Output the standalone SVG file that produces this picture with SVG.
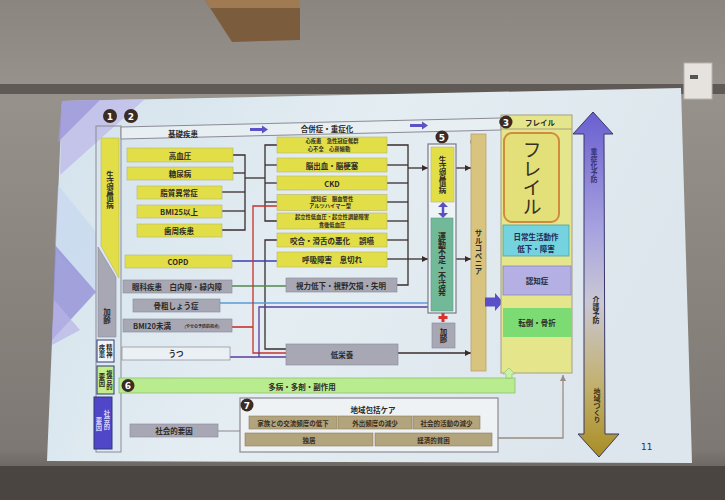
<svg xmlns="http://www.w3.org/2000/svg" width="725" height="500" viewBox="0 0 725 500">
<defs>
<linearGradient id="wall" x1="0" y1="0" x2="0" y2="1">
<stop offset="0" stop-color="#8b8580"/><stop offset="0.17" stop-color="#98928c"/><stop offset="0.9" stop-color="#7d7873"/><stop offset="1" stop-color="#4d4844"/>
</linearGradient>
<linearGradient id="slide" x1="0" y1="0" x2="1" y2="0.3">
<stop offset="0" stop-color="#d3e2ec"/><stop offset="0.5" stop-color="#e4edf2"/><stop offset="1" stop-color="#dde6ec"/>
</linearGradient>
<linearGradient id="dbl" x1="0" y1="0" x2="0" y2="1">
<stop offset="0" stop-color="#6a5fd0"/><stop offset="0.35" stop-color="#a9a4e0"/><stop offset="0.55" stop-color="#c9c7d3"/><stop offset="0.8" stop-color="#c2b06a"/><stop offset="1" stop-color="#a88d25"/>
</linearGradient>
<marker id="ah" viewBox="0 0 6 6" refX="6" refY="3" markerWidth="6" markerHeight="6" markerUnits="userSpaceOnUse" orient="auto">
<path d="M0,0 L6,3 L0,6 z" fill="#3a2b2b"/>
</marker>
<marker id="ahg" viewBox="0 0 6 6" refX="6" refY="3" markerWidth="6" markerHeight="6" markerUnits="userSpaceOnUse" orient="auto">
<path d="M0,0 L6,3 L0,6 z" fill="#9a8c80"/>
</marker>
<style>
.y{fill:#e2de47;stroke:#b9b56c;stroke-width:.6}
.g{fill:#a8a8b5;stroke:#86869a;stroke-width:.6}
.t{font-family:"Noto Sans CJK JP","Noto Sans",sans-serif;font-size:7.5px;font-weight:700;fill:#2e2a26;text-anchor:middle;dominant-baseline:central}
.s{font-size:6.3px}
.two{font-size:5.3px}
.v{writing-mode:vertical-rl;dominant-baseline:auto}
.num{fill:#3b2b22}
.nt{font-family:"DejaVu Sans",sans-serif;font-size:9px;font-weight:700;fill:#ffffff;text-anchor:middle;dominant-baseline:central}
.c{fill:none;stroke:#3a2d2d;stroke-width:1.3}
.tan{fill:#b2a47c;stroke:#8c7c5e;stroke-width:.6}
.tt{font-family:"Noto Sans CJK JP","Noto Sans",sans-serif;font-size:6.5px;font-weight:700;fill:#3a2e22;text-anchor:middle;dominant-baseline:central}
</style>
</defs>

<!-- room background -->
<rect width="725" height="500" fill="url(#wall)"/>
<polygon points="205,0 300,0 300,40 232,42" fill="#7b5c3c"/>
<polygon points="205,0 300,0 300,8 210,8" fill="#a07a52"/>
<rect x="0" y="84" width="725" height="10" fill="#5f5a55"/>
<rect x="684" y="63" width="28" height="36" fill="#e6e3df" stroke="#b8b4b0" stroke-width="1"/>
<rect x="690" y="75" width="8" height="4" fill="#555"/>
<polygon points="0,466 725,466 725,500 0,500" fill="#4a4541"/>

<!-- slide -->
<polygon points="62,101 681,88 692,463 47,461" fill="url(#slide)"/>
<polygon points="62,101 145,99 60,175" fill="#bdb9e8" opacity="0.75"/>
<polygon points="62,101 100,100 58,142" fill="#9d98d8" opacity="0.8"/>
<polygon points="58,185 96,232 96,292 55,250" fill="#c4d6f0" opacity="0.6"/>
<polygon points="55,245 96,292 52,340" fill="#8f89d6" opacity="0.75"/>
<polygon points="54,300 80,330 52,345" fill="#b8b3e6" opacity="0.7"/>

<!-- frames -->
<g id="frame1">
<rect x="96" y="126" width="25" height="326" fill="none" stroke="#8a8a96" stroke-width="1"/>
</g>
<g id="header">
<polygon points="121,127 501,118 501,130 121,139" fill="#e8eff3" stroke="#8a8a96" stroke-width="1"/>
<text class="t" x="183" y="133">基礎疾患</text>
<polygon points="250,128 262,128 262,125.5 268,129.5 262,133.5 262,131 250,131" fill="#5a52c6"/>
<text class="t" x="327" y="128">合併症・重症化</text>
<polygon points="410,124 422,124 422,121.5 428,125.5 422,129.5 422,127 410,127" fill="#5a52c6"/>
</g>

<!-- numbered circles -->
<g id="numbers">
<circle class="num" cx="110" cy="116" r="7"/><text class="nt" x="110" y="116.5">1</text>
<circle class="num" cx="131" cy="116" r="7"/><text class="nt" x="131" y="116.5">2</text>
<circle class="num" cx="506" cy="122" r="6.5"/><text class="nt" x="506" y="122.5">3</text>
<circle class="num" cx="477" cy="142" r="6.5"/><text class="nt" x="477" y="142.5">4</text>
<circle class="num" cx="442" cy="137" r="6.5"/><text class="nt" x="442" y="137.5">5</text>
<circle class="num" cx="247" cy="405" r="6.5"/><text class="nt" x="247" y="405.5">7</text>
</g>

<!-- connectors -->
<g id="connectors">
<polyline class="c" points="233,155 245,155 245,230 222,230"/>
<line class="c" x1="233" y1="173" x2="245" y2="173"/>
<line class="c" x1="222" y1="192" x2="245" y2="192"/>
<line class="c" x1="222" y1="211" x2="245" y2="211"/>
<line class="c" x1="245" y1="178" x2="265" y2="178"/>
<polyline class="c" points="277,145 265,145 265,221 277,221"/>
<line class="c" x1="265" y1="165" x2="277" y2="165"/>
<line class="c" x1="265" y1="183" x2="277" y2="183"/>
<line class="c" x1="265" y1="202" x2="277" y2="202"/>
<polyline class="c" points="387,145 408,145 408,285 397,285"/>
<line class="c" x1="387" y1="165" x2="408" y2="165"/>
<line class="c" x1="387" y1="183" x2="408" y2="183"/>
<line class="c" x1="387" y1="202" x2="408" y2="202"/>
<line class="c" x1="387" y1="221" x2="408" y2="221"/>
<line class="c" x1="387" y1="240" x2="408" y2="240"/>
<line class="c" x1="387" y1="259" x2="408" y2="259"/>
<line class="c" x1="408" y1="168" x2="428" y2="168" marker-end="url(#ah)"/>
<line class="c" x1="408" y1="259" x2="428" y2="259" marker-end="url(#ah)"/>
<line class="c" x1="454" y1="168" x2="471" y2="168" marker-end="url(#ah)"/>
<line class="c" x1="453" y1="259" x2="471" y2="259" marker-end="url(#ah)"/>
<line class="c" x1="398" y1="353" x2="471" y2="353" marker-end="url(#ah)"/>
<polyline class="c" points="277,240 265,240 265,349 286,349"/>
<line x1="232" y1="261" x2="277" y2="261" stroke="#3c3cb0" stroke-width="1.5"/>
<line x1="232" y1="286" x2="286" y2="286" stroke="#4f8a4a" stroke-width="1.3"/>
<line x1="220" y1="303" x2="431" y2="303" stroke="#5a9ad8" stroke-width="1.3"/>
<polyline points="277,206 253,206 253,353 286,353" fill="none" stroke="#c8322c" stroke-width="1.3"/>
<line x1="232" y1="327" x2="253" y2="327" stroke="#c8322c" stroke-width="1.6"/>
<polyline points="230,357 286,357" fill="none" stroke="#5a3c9c" stroke-width="1.3"/>
<polyline points="259,357 259,307 431,307" fill="none" stroke="#5a3c9c" stroke-width="1.3"/>
<line x1="218" y1="431" x2="240" y2="431" stroke="#9a9a9e" stroke-width="1.2"/>
<polyline points="498,438 563,438 563,375" fill="none" stroke="#9a8c80" stroke-width="1.3" marker-end="url(#ahg)"/>
</g>

<!-- column 1 -->
<g id="n-seikatsu1">
<polygon points="101,138 119,138 119,278 101,246" class="y"/>
<text class="t v" x="110" y="190">生活習慣病</text>
</g>
<g id="n-karei1">
<polygon points="98,247 116,277 116,337 98,337" class="g"/>
<text class="t v" x="107" y="316">加齢</text>
</g>
<g id="n-seishin">
<rect x="97" y="340" width="17" height="22" fill="#f2f5f7" stroke="#2f3a78" stroke-width="1"/>
<text class="t v s" x="109.5" y="351">精神</text>
<text class="t v s" x="102" y="351">疾患</text>
</g>
<g id="n-fukugo">
<rect x="97" y="366" width="17" height="28" fill="#c3ec8a" stroke="#2f3a78" stroke-width="1"/>
<text class="t v s" x="109.5" y="380">複合的</text>
<text class="t v s" x="102" y="380">要因</text>
</g>
<g id="n-shakai1">
<rect x="94" y="397" width="18" height="52" fill="#4f46c8" stroke="#2f3a78" stroke-width="1"/>
<text class="t v s" x="107" y="420" style="fill:#d8d6ff">社会的</text>
<text class="t v s" x="99" y="424" style="fill:#d8d6ff">要因</text>
</g>

<!-- column 2 -->
<g id="n-kouketsuatsu"><rect class="y" x="127" y="148" width="106" height="14"/><text class="t" x="180" y="155">高血圧</text></g>
<g id="n-tounyou"><rect class="y" x="127" y="167" width="106" height="13"/><text class="t" x="180" y="173.5">糖尿病</text></g>
<g id="n-shishitsu"><rect class="y" x="137" y="186" width="85" height="13"/><text class="t" x="179" y="192.5">脂質異常症</text></g>
<g id="n-bmi25"><rect class="y" x="137" y="205" width="85" height="13"/><text class="t" x="179" y="211.5">BMI25以上</text></g>
<g id="n-shishuu"><rect class="y" x="137" y="224" width="85" height="13"/><text class="t" x="179" y="230.5">歯周疾患</text></g>
<g id="n-copd"><rect class="y" x="125" y="255" width="107" height="13"/><text class="t" x="178" y="261.5">COPD</text></g>
<g id="n-ganka"><rect class="g" x="123" y="280" width="109" height="13"/><text class="t" x="177" y="286.5">眼科疾患　白内障・緑内障</text></g>
<g id="n-kotsuso"><rect class="g" x="133" y="299" width="87" height="13"/><text class="t" x="176" y="305.5">骨粗しょう症</text></g>
<g id="n-bmi20"><rect class="g" x="123" y="319" width="109" height="13"/><text class="t" x="152" y="325.5">BMI20未満</text><text class="t" x="202" y="326" style="font-size:4px">(やせの予防的視点)</text></g>
<g id="n-utsu"><rect x="122" y="347" width="108" height="13" fill="#eaf0f4" stroke="#8a8a96" stroke-width=".7"/><text class="t" x="176" y="353.5">うつ</text></g>

<!-- middle column -->
<g id="n-shinshikkan"><rect class="y" x="277" y="137" width="110" height="16"/><text class="t two" x="332" y="141.1">心疾患　急性冠症候群</text><text class="t two" x="329" y="148.9">心不全　心房細動</text></g>
<g id="n-nou"><rect class="y" x="277" y="158" width="110" height="14"/><text class="t" x="332" y="165">脳出血・脳梗塞</text></g>
<g id="n-ckd"><rect class="y" x="277" y="176" width="110" height="14"/><text class="t" x="332" y="183">CKD</text></g>
<g id="n-ninchi1"><rect class="y" x="277" y="194.5" width="110" height="16"/><text class="t two" x="332" y="198.6">認知症　脳血管性</text><text class="t two" x="330" y="206.4">アルツハイマー型</text></g>
<g id="n-kiritsu"><rect class="y" x="277" y="213" width="110" height="16"/><text class="t two" x="332" y="217.1">起立性低血圧・起立性調節障害</text><text class="t two" x="332" y="224.9">食後低血圧</text></g>
<g id="n-kougou"><rect class="y" x="277" y="233" width="110" height="14"/><text class="t" x="332" y="240">咬合・滑舌の悪化　 誤嚥</text></g>
<g id="n-kokyuu"><rect class="y" x="277" y="252" width="110" height="15"/><text class="t" x="332" y="259.5">呼吸障害　息切れ</text></g>
<g id="n-shiryoku"><rect class="g" x="286" y="278" width="111" height="14"/><text class="t" x="341" y="285">視力低下・視野欠損・失明</text></g>
<g id="n-teieiyou"><rect class="g" x="286" y="344" width="112" height="21"/><text class="t" x="342" y="354.5">低栄養</text></g>

<!-- column 5 -->
<g id="n-frame5">
<rect x="428" y="144" width="28" height="169" fill="#eef3f6" stroke="#7a7a88" stroke-width="1.2"/>
</g>
<g id="n-seikatsu5"><rect class="y" x="431" y="147" width="23" height="55"/><text class="t v" x="442.5" y="175">生活習慣病</text></g>
<g id="n-dblarrow">
<line x1="443" y1="206" x2="443" y2="214" stroke="#5a50c0" stroke-width="2.5"/>
<polygon points="438,207 448,207 443,202" fill="#5a50c0"/>
<polygon points="438,213 448,213 443,218" fill="#5a50c0"/>
</g>
<g id="n-undou"><rect x="431" y="218" width="22" height="93" fill="#72b99a" stroke="#5a9a80" stroke-width=".6"/><text class="t v" x="442" y="264" style="font-size:8px">運動不足・不活発</text></g>
<g id="n-plus"><rect x="441.5" y="313" width="3" height="9" fill="#d8322c"/><rect x="438.5" y="316" width="9" height="3" fill="#d8322c"/></g>
<g id="n-karei5"><rect class="g" x="432" y="323" width="23" height="25"/><text class="t v" x="443.5" y="335.5">加齢</text></g>

<!-- column 4 -->
<g id="n-sarco"><rect x="471" y="134" width="15" height="237" fill="#d8c47f" stroke="#b8a266" stroke-width=".8"/><text class="t v" x="478.5" y="252">サルコペニア</text></g>
<g id="n-bigarrow"><polygon points="485,297.5 495,297.5 495,293 503,302 495,311 495,306.5 485,306.5" fill="#5a4fc8"/></g>

<!-- frailty column -->
<g id="n-frail">
<rect x="501" y="115" width="71" height="258" fill="#e5e68c" stroke="#a4a07e" stroke-width="1"/>
<line x1="501" y1="129" x2="572" y2="129" stroke="#a4a07e" stroke-width="1"/>
<text class="t" x="540" y="122.5">フレイル</text>
<circle class="num" cx="506" cy="122" r="6.5"/><text class="nt" x="506" y="122.5">3</text>
<rect x="504" y="133" width="55" height="89" rx="8" fill="#e3e07a" stroke="#d08b3c" stroke-width="2"/>
<text x="532" y="178" style="font-family:'Noto Sans CJK JP',sans-serif;font-size:19px;fill:#3a3020;text-anchor:middle;writing-mode:vertical-rl">フレイル</text>
</g>
<g id="n-adl"><rect x="503" y="225" width="66" height="31" fill="#74d3df" stroke="#4aa4b0" stroke-width=".8"/><text class="t" x="536" y="236" style="fill:#222a55">日常生活動作</text><text class="t" x="536" y="248" style="fill:#222a55">低下・障害</text></g>
<g id="n-ninchi3"><rect x="503" y="266" width="68" height="29" fill="#b4b0e4" stroke="#8a86b8" stroke-width=".8"/><text class="t" x="537" y="280.5">認知症</text></g>
<g id="n-tentou"><rect x="503" y="308" width="69" height="29" fill="#7cdb73"/><text class="t" x="537" y="322.5">転倒・骨折</text></g>

<!-- double arrow -->
<g id="n-prevent">
<polygon points="593,112 613,134 604,134 605,434 619,434 599,457 578,434 584,434 584,134 573,134" fill="url(#dbl)" stroke="#3b3768" stroke-width="1"/>
<text class="t v" x="594" y="165" style="fill:#3a3470;font-size:7px">重症化予防</text>
<text class="t v" x="596" y="310" style="fill:#2e2a26;font-size:7px">介護予防</text>
<text class="t v" x="597" y="405" style="fill:#3a2e15;font-size:7px">地域づくり</text>
</g>

<!-- row 6 -->
<g id="n-tabyou">
<rect x="119" y="378" width="396" height="15" fill="#b9ec8f" stroke="#8fbf75" stroke-width=".8"/>
<circle class="num" cx="128" cy="385.5" r="6.5"/><text class="nt" x="128" y="386">6</text>
<text class="t" x="302" y="386">多病・多剤・副作用</text>
<polygon points="506,378 506,374 503,374 509,368 515,374 512,374 512,378" fill="#c8f2a4" stroke="#8fbf75" stroke-width=".7"/>
</g>

<!-- 7 -->
<g id="n-chiiki">
<rect x="240" y="398" width="258" height="54" fill="#eef2f5" stroke="#8a8a90" stroke-width="1.2"/>
<circle class="num" cx="247" cy="405" r="6.5"/><text class="nt" x="247" y="405.5">7</text>
<text class="t" x="373" y="409">地域包括ケア</text>
<rect class="tan" x="249" y="416" width="88" height="13"/><text class="tt" x="293" y="422.5">家族との交流頻度の低下</text>
<rect class="tan" x="338" y="416" width="74" height="13"/><text class="tt" x="375" y="422.5">外出頻度の減少</text>
<rect class="tan" x="413" y="416" width="67" height="13"/><text class="tt" x="446.5" y="422.5">社会的活動の減少</text>
<rect class="tan" x="245" y="433" width="128" height="13"/><text class="tt" x="309" y="439.5">独居</text>
<rect class="tan" x="375" y="433" width="117" height="13"/><text class="tt" x="433.5" y="439.5">経済的貧困</text>
</g>
<g id="n-shakai2"><rect class="g" x="130" y="424" width="88" height="13"/><text class="t" x="174" y="430.5">社会的要因</text></g>

<text x="641" y="450" style="font-family:'DejaVu Sans',sans-serif;font-size:9px;fill:#333">11</text>
</svg>
